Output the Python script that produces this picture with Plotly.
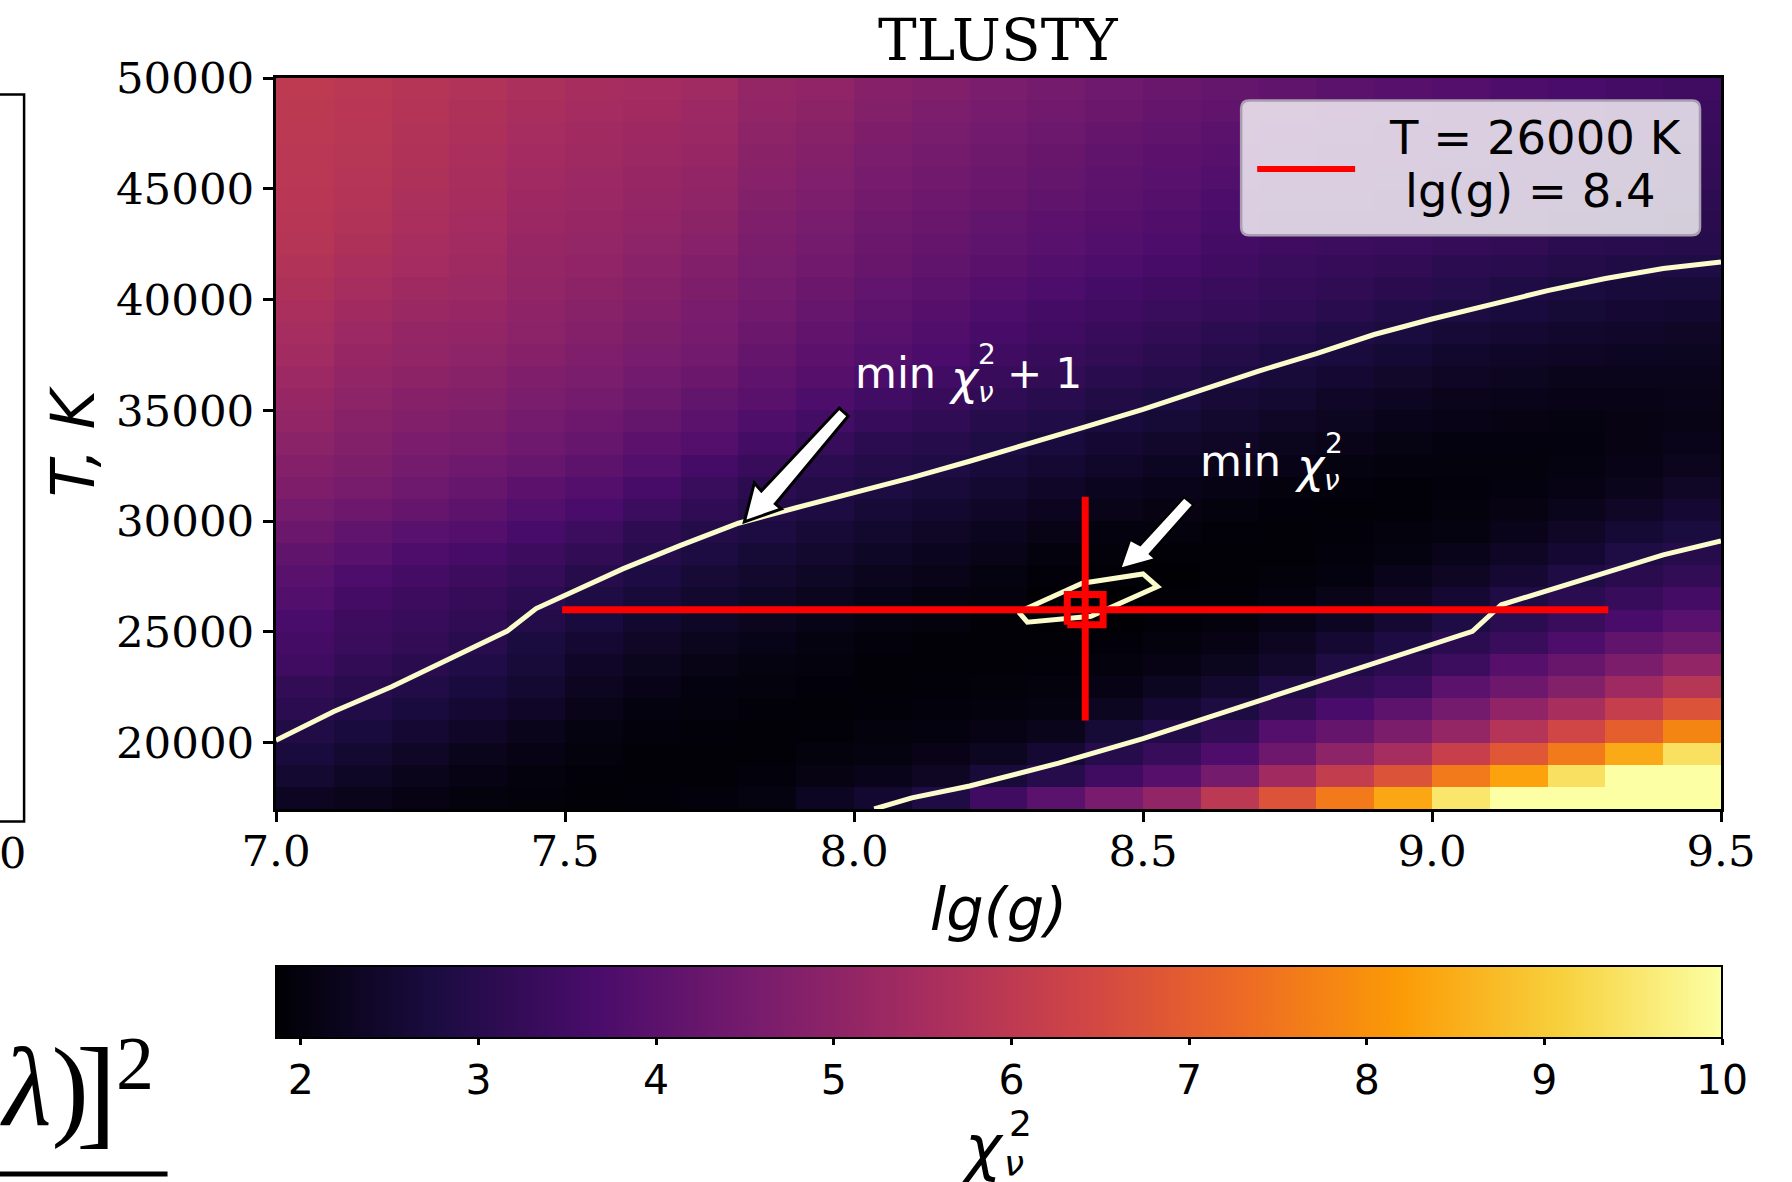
import plotly.graph_objects as go

# ---------- data ----------
lg_g_edges = [7.0,7.1,7.2,7.3,7.4,7.5,7.6,7.7,7.8,7.9,8.0,8.1,8.2,8.3,8.4,8.5,8.6,8.7,8.8,8.9,9.0,9.1,9.2,9.3,9.4,9.5]
temp_edges = [17000,18000,19000,20000,21000,22000,23000,24000,25000,26000,27000,28000,29000,30000,31000,32000,33000,
              34000,35000,36000,37000,38000,39000,40000,41000,42000,43000,44000,45000,46000,47000,48000,49000,50000]
# chi^2 per column of lg(g); each list runs from the lowest T row to the highest
chi_c00 = [2.3,2.52,2.7,2.88,3.1,3.22,3.45,3.55,3.65,3.82,3.95,4.1,4.3,4.5,4.7,4.82,4.95,5.08,5.2,5.3,5.42,5.5,5.58,5.67,5.76,5.83,5.87,5.9,5.92,5.94,5.96,5.98,6.0]
chi_c01 = [2.2,2.36,2.52,2.72,2.9,3.05,3.2,3.35,3.42,3.55,3.7,3.95,4.1,4.35,4.55,4.68,4.8,4.9,5.0,5.1,5.2,5.3,5.4,5.5,5.6,5.68,5.74,5.78,5.83,5.85,5.88,5.9,5.93]
chi_c02 = [2.1,2.22,2.38,2.55,2.72,2.9,3.05,3.2,3.3,3.42,3.55,3.75,3.95,4.2,4.38,4.5,4.63,4.75,4.85,4.97,5.07,5.15,5.25,5.35,5.45,5.53,5.58,5.63,5.68,5.72,5.75,5.78,5.83]
chi_c03 = [2.0,2.1,2.22,2.4,2.55,2.7,2.87,3.02,3.15,3.28,3.42,3.6,3.85,4.05,4.22,4.38,4.55,4.68,4.8,4.9,5.0,5.1,5.2,5.28,5.35,5.42,5.47,5.52,5.55,5.6,5.64,5.68,5.73]
chi_c04 = [1.95,2.0,2.1,2.22,2.4,2.52,2.65,2.75,2.92,3.1,3.25,3.42,3.62,3.82,4.03,4.22,4.38,4.5,4.62,4.72,4.85,4.95,5.02,5.09,5.15,5.2,5.27,5.33,5.38,5.44,5.5,5.56,5.62]
chi_c05 = [1.9,1.93,1.98,2.05,2.15,2.28,2.4,2.55,2.7,2.85,3.0,3.2,3.4,3.65,3.85,4.05,4.22,4.36,4.5,4.62,4.72,4.82,4.9,4.98,5.05,5.12,5.18,5.23,5.3,5.35,5.4,5.47,5.53]
chi_c06 = [1.93,1.9,1.92,1.97,2.03,2.12,2.25,2.38,2.5,2.65,2.8,2.98,3.12,3.4,3.6,3.83,4.02,4.18,4.33,4.46,4.58,4.68,4.76,4.84,4.92,5.0,5.07,5.13,5.2,5.27,5.33,5.4,5.46]
chi_c07 = [1.97,1.92,1.9,1.93,1.98,2.04,2.13,2.25,2.36,2.48,2.62,2.78,2.92,3.15,3.35,3.58,3.85,4.0,4.15,4.3,4.45,4.53,4.6,4.7,4.77,4.88,4.96,5.03,5.1,5.17,5.23,5.3,5.37]
chi_c08 = [2.05,1.97,1.92,1.9,1.93,1.98,2.06,2.14,2.25,2.36,2.48,2.6,2.78,2.92,3.1,3.32,3.55,3.78,3.97,4.08,4.2,4.32,4.42,4.5,4.58,4.65,4.72,4.8,4.87,4.94,5.0,5.08,5.15]
chi_c09 = [2.3,2.08,2.0,1.94,1.9,1.93,1.98,2.05,2.14,2.25,2.36,2.48,2.62,2.78,2.92,3.1,3.3,3.53,3.72,3.9,4.03,4.13,4.22,4.32,4.42,4.5,4.58,4.66,4.74,4.82,4.9,4.98,5.05]
chi_c10 = [2.5,2.18,2.05,1.98,1.93,1.9,1.92,1.97,2.05,2.14,2.25,2.36,2.48,2.62,2.78,2.92,3.1,3.3,3.5,3.68,3.83,3.95,4.05,4.15,4.25,4.32,4.4,4.47,4.55,4.62,4.7,4.78,4.85]
chi_c11 = [2.85,2.32,2.12,2.03,1.97,1.93,1.9,1.92,1.98,2.06,2.15,2.26,2.38,2.5,2.65,2.82,2.97,3.15,3.33,3.5,3.68,3.8,3.9,4.0,4.1,4.2,4.27,4.35,4.43,4.5,4.58,4.67,4.75]
chi_c12 = [3.45,2.65,2.28,2.1,2.0,1.95,1.92,1.9,1.92,1.98,2.06,2.15,2.27,2.4,2.53,2.68,2.83,3.0,3.17,3.33,3.48,3.6,3.72,3.85,3.97,4.07,4.15,4.23,4.31,4.39,4.46,4.54,4.62]
chi_c13 = [4.0,3.0,2.55,2.22,2.06,1.98,1.94,1.9,1.87,1.88,1.93,2.0,2.13,2.26,2.4,2.55,2.7,2.87,3.03,3.2,3.33,3.45,3.55,3.7,3.83,3.95,4.03,4.1,4.18,4.26,4.33,4.42,4.5]
chi_c14 = [4.6,3.45,3.0,2.6,2.28,2.1,2.0,1.93,1.88,1.86,1.9,1.95,2.03,2.15,2.27,2.42,2.57,2.72,2.88,3.04,3.2,3.33,3.45,3.58,3.7,3.82,3.9,3.98,4.05,4.13,4.2,4.3,4.38]
chi_c15 = [5.1,3.9,3.3,2.9,2.55,2.28,2.1,2.0,1.93,1.9,1.88,1.92,1.98,2.08,2.18,2.3,2.45,2.6,2.76,2.92,3.07,3.22,3.35,3.47,3.6,3.72,3.8,3.87,3.94,4.02,4.1,4.2,4.28]
chi_c16 = [5.95,4.5,3.75,3.2,2.78,2.48,2.25,2.1,2.0,1.93,1.9,1.9,1.94,2.0,2.1,2.22,2.35,2.48,2.62,2.78,2.93,3.1,3.25,3.35,3.45,3.55,3.63,3.72,3.82,3.92,4.0,4.1,4.18]
chi_c17 = [6.75,5.4,4.35,3.85,3.2,2.85,2.45,2.28,2.12,2.02,1.95,1.92,1.9,1.93,2.0,2.12,2.25,2.38,2.52,2.65,2.8,2.97,3.15,3.25,3.35,3.45,3.55,3.65,3.75,3.85,3.93,4.02,4.1]
chi_c18 = [7.6,6.1,5.0,4.2,3.65,3.15,2.85,2.55,2.3,2.15,2.04,1.97,1.93,1.92,1.96,2.05,2.15,2.28,2.4,2.55,2.7,2.85,3.02,3.15,3.28,3.4,3.5,3.6,3.7,3.78,3.85,3.93,4.0]
chi_c19 = [8.4,6.75,5.5,4.65,4.05,3.4,3.1,2.8,2.55,2.32,2.17,2.06,1.98,1.94,1.93,1.98,2.07,2.18,2.3,2.43,2.58,2.73,2.9,3.05,3.2,3.35,3.45,3.55,3.63,3.7,3.77,3.85,3.92]
chi_c20 = [9.5,7.6,6.2,5.15,4.5,4.0,3.4,3.1,2.82,2.55,2.32,2.17,2.06,1.99,1.96,1.98,2.03,2.12,2.22,2.34,2.47,2.62,2.78,2.95,3.1,3.25,3.37,3.47,3.55,3.62,3.7,3.78,3.85]
chi_c21 = [10,8.3,6.85,5.8,5.05,4.35,3.9,3.35,3.1,2.85,2.55,2.33,2.18,2.08,2.03,2.0,2.02,2.08,2.17,2.28,2.4,2.55,2.7,2.85,3.02,3.2,3.3,3.4,3.48,3.55,3.6,3.66,3.72]
chi_c22 = [10,9.4,7.6,6.4,5.55,4.8,4.25,3.7,3.35,3.1,2.85,2.55,2.35,2.2,2.1,2.05,2.03,2.05,2.12,2.22,2.33,2.47,2.6,2.75,2.92,3.1,3.2,3.3,3.38,3.45,3.52,3.58,3.65]
chi_c23 = [10,10,8.45,7.05,6.15,5.35,4.65,4.1,3.65,3.3,3.05,2.82,2.58,2.38,2.22,2.12,2.08,2.08,2.12,2.2,2.3,2.42,2.55,2.68,2.84,3.02,3.12,3.22,3.3,3.36,3.42,3.48,3.55]
chi_c24 = [10,10,9.4,7.8,6.75,5.85,5.1,4.4,3.95,3.55,3.2,2.97,2.75,2.55,2.38,2.25,2.18,2.13,2.15,2.2,2.28,2.38,2.5,2.65,2.82,2.97,3.05,3.13,3.2,3.26,3.32,3.38,3.45]
chi_columns = [chi_c00,chi_c01,chi_c02,chi_c03,chi_c04,chi_c05,chi_c06,chi_c07,chi_c08,chi_c09,chi_c10,chi_c11,chi_c12,
               chi_c13,chi_c14,chi_c15,chi_c16,chi_c17,chi_c18,chi_c19,chi_c20,chi_c21,chi_c22,chi_c23,chi_c24]
assert all(len(c) == 33 for c in chi_columns), [len(c) for c in chi_columns]
chi_rows = [list(r) for r in zip(*chi_columns)]

upper_g = [7.0,7.1,7.2,7.3,7.4,7.45,7.5,7.6,7.7,7.8,7.9,8.0,8.1,8.2,8.3,8.4,8.5,8.6,8.7,8.8,8.9,9.0,9.1,9.2,9.3,9.4,9.5]
upper_T = [20100,21400,22520,23780,25030,26050,26630,27840,28900,29900,30600,31280,31960,32700,33450,34250,35040,35900,36770,37560,38420,39120,39760,40400,40950,41400,41700]
lower_g = [8.035,8.1,8.2,8.3,8.354,8.5,8.7,8.9,9.07,9.12,9.2,9.3,9.4,9.5]
lower_T = [17000,17500,18040,18700,19070,20180,21890,23620,25020,26220,26860,27700,28470,29100]
inner_g = [8.285,8.30,8.41,8.525,8.50,8.395,8.285]
inner_T = [25890,25435,25700,27040,27610,27190,25890]

hline_g = [7.495,9.305]
hline_T = [26000,26000]
vline_g = [8.4,8.4]
vline_T = [21000,31100]
box_g = [8.369,8.431,8.431,8.369,8.369]
box_T = [25320,25320,26680,26680,25320]

t_ticks = [20000,25000,30000,35000,40000,45000,50000]
g_ticks = [7.0,7.5,8.0,8.5,9.0,9.5]
cbar_ticks = [2,3,4,5,6,7,8,9,10]
chi_min, chi_max = 1.86, 10

# ---------- layout frame (pixels of the 1792x1182 page) ----------
W, H = 1792, 1182
L, R, T_, B = 275.5, 1721, 77.5, 809.5
def xp(x): return (x - L) / (R - L)
def yp(y): return (B - y) / (B - T_)

SERIF = "DejaVu Serif"
SANS = "DejaVu Sans"
CONT = "#fbfccb"

fig = go.Figure()
fig.add_trace(go.Heatmap(
    x=lg_g_edges, y=temp_edges, z=chi_rows, zmin=chi_min, zmax=chi_max, colorscale="Inferno",
    hoverinfo="skip",
    colorbar=dict(orientation="h", lenmode="pixels", len=R - L, thicknessmode="pixels", thickness=72,
                  xref="paper", x=0, xanchor="left", yref="container", y=1 - 966 / H, yanchor="top",
                  xpad=0, ypad=0, outlinecolor="black", outlinewidth=2,
                  ticks="outside", ticklen=6, tickwidth=2.5, tickcolor="black", tickvals=cbar_ticks,
                  ticktext=[str(v) for v in cbar_ticks],
                  tickfont=dict(family=SANS, size=41, color="black")),
))
for gx, ty in [(upper_g, upper_T), (lower_g, lower_T), (inner_g, inner_T)]:
    fig.add_trace(go.Scatter(x=gx, y=ty, mode="lines", line=dict(color=CONT, width=5), showlegend=False, hoverinfo="skip"))
for gx, ty in [(hline_g, hline_T), (vline_g, vline_T), (box_g, box_T)]:
    fig.add_trace(go.Scatter(x=gx, y=ty, mode="lines", line=dict(color="#ff0000", width=7), showlegend=False, hoverinfo="skip"))

def poly(points, **kw):
    d = "M " + " L ".join(f"{xp(a):.5f},{yp(b):.5f}" for a, b in points) + " Z"
    return dict(type="path", xref="paper", yref="paper", path=d, layer="above", **kw)

def rrect(x0, y0, x1, y1, r):
    X0, X1, Y0, Y1 = xp(x0), xp(x1), yp(y0), yp(y1)
    rx, ry = r / (R - L), r / (B - T_)
    return (f"M {X0+rx:.5f},{Y0:.5f} L {X1-rx:.5f},{Y0:.5f} Q {X1:.5f},{Y0:.5f} {X1:.5f},{Y0-ry:.5f} "
            f"L {X1:.5f},{Y1+ry:.5f} Q {X1:.5f},{Y1:.5f} {X1-rx:.5f},{Y1:.5f} "
            f"L {X0+rx:.5f},{Y1:.5f} Q {X0:.5f},{Y1:.5f} {X0:.5f},{Y1+ry:.5f} "
            f"L {X0:.5f},{Y0-ry:.5f} Q {X0:.5f},{Y0:.5f} {X0+rx:.5f},{Y0:.5f} Z")

shapes = [
    poly([(839,408),(848,416),(775,504),(781,509),(744,522),(754,483),(761,491)],
         fillcolor="white", line=dict(color="black", width=3)),
    poly([(1184,497.5),(1193,505),(1149.5,554),(1155,559),(1120,569),(1130,540),(1140,545.5)],
         fillcolor="white", line=dict(color="black", width=2)),
    dict(type="path", xref="paper", yref="paper", path=rrect(1241, 100, 1700, 235, 8), layer="above",
         fillcolor="rgba(255,255,255,0.8)", line=dict(color="#a99db2", width=2.5)),
    dict(type="line", xref="paper", yref="paper", x0=xp(1257), x1=xp(1355), y0=yp(168.5), y1=yp(168.5), layer="above",
         line=dict(color="#ff0000", width=6)),
    dict(type="path", xref="paper", yref="paper", layer="above",
         path=f"M {xp(-5):.5f},{yp(94):.5f} L {xp(23.5):.5f},{yp(94):.5f} L {xp(23.5):.5f},{yp(822):.5f} L {xp(-5):.5f},{yp(822):.5f}",
         line=dict(color="black", width=2.5)),
    dict(type="line", xref="paper", yref="paper", x0=xp(-5), x1=xp(167), y0=yp(1175), y1=yp(1175), layer="above",
         line=dict(color="black", width=5)),
]

def txt(x, y, s, size, color="black", family=SANS, xanchor="center"):
    return dict(xref="paper", yref="paper", x=xp(x), y=yp(y), text=s, showarrow=False, xanchor=xanchor, yanchor="middle",
                font=dict(family=family, size=size, color=color), align="center", borderpad=0, borderwidth=0)

annots = [
    txt(998, 39, "TLUSTY", 58, family=SERIF),
    txt(1535, 138, "T = 26000 K", 46.5),
    txt(1530, 191, "lg(g) = 8.4", 46.5),
    txt(895, 373, "min", 43, "white"),
    txt(964, 378, "<i>χ</i>", 46, "white"),
    txt(987, 354, "2", 28, "white"),
    txt(986, 392, "<i>ν</i>", 28, "white"),
    txt(1044, 373, "+ 1", 42, "white"),
    txt(1240, 461, "min", 43, "white"),
    txt(1310, 466, "<i>χ</i>", 46, "white"),
    txt(1334, 444, "2", 28, "white"),
    txt(1332, 481, "<i>ν</i>", 28, "white"),
    txt(983, 1148, "<i>χ</i>", 62),
    txt(1020, 1124, "2", 36),
    txt(1014, 1164, "<i>ν</i>", 36),
    txt(12, 854, "0", 43, family=SERIF),
    txt(88, 1088, "<i>λ</i>)", 112, family="Liberation Serif", xanchor="right"),
    txt(116, 1092, "]", 122, family="Liberation Serif", xanchor="right"),
    txt(134, 1064, "2", 76, family="Liberation Serif"),
]

axis_common = dict(showline=True, linecolor="black", linewidth=3, mirror=True, ticks="outside", ticklen=10, tickwidth=3,
                   tickcolor="black", showgrid=False, zeroline=False, automargin=True,
                   tickfont=dict(family=SERIF, size=43.5, color="black"))

fig.update_layout(
    width=W, height=H, autosize=False,
    margin=dict(l=L, r=W - R, t=T_, b=H - B, autoexpand=False),
    paper_bgcolor="white", plot_bgcolor="black", showlegend=False,
    xaxis=dict(range=[7.0, 9.5], tickvals=g_ticks, tickformat=".1f", ticklabelstandoff=-8,
               title=dict(text="<i>lg(g)</i>", font=dict(family=SANS, size=59, color="black"), standoff=14), **axis_common),
    yaxis=dict(range=[17000, 50000], tickvals=t_ticks, tickformat="d",
               title=dict(text="<i>T, K</i>", font=dict(family=SANS, size=60, color="black"), standoff=2), **axis_common),
    shapes=shapes, annotations=annots,
)

fig.write_html("out.html", config=dict(displayModeBar=False),
               post_script="document.body.style.margin='0';document.body.style.overflow='hidden';")
